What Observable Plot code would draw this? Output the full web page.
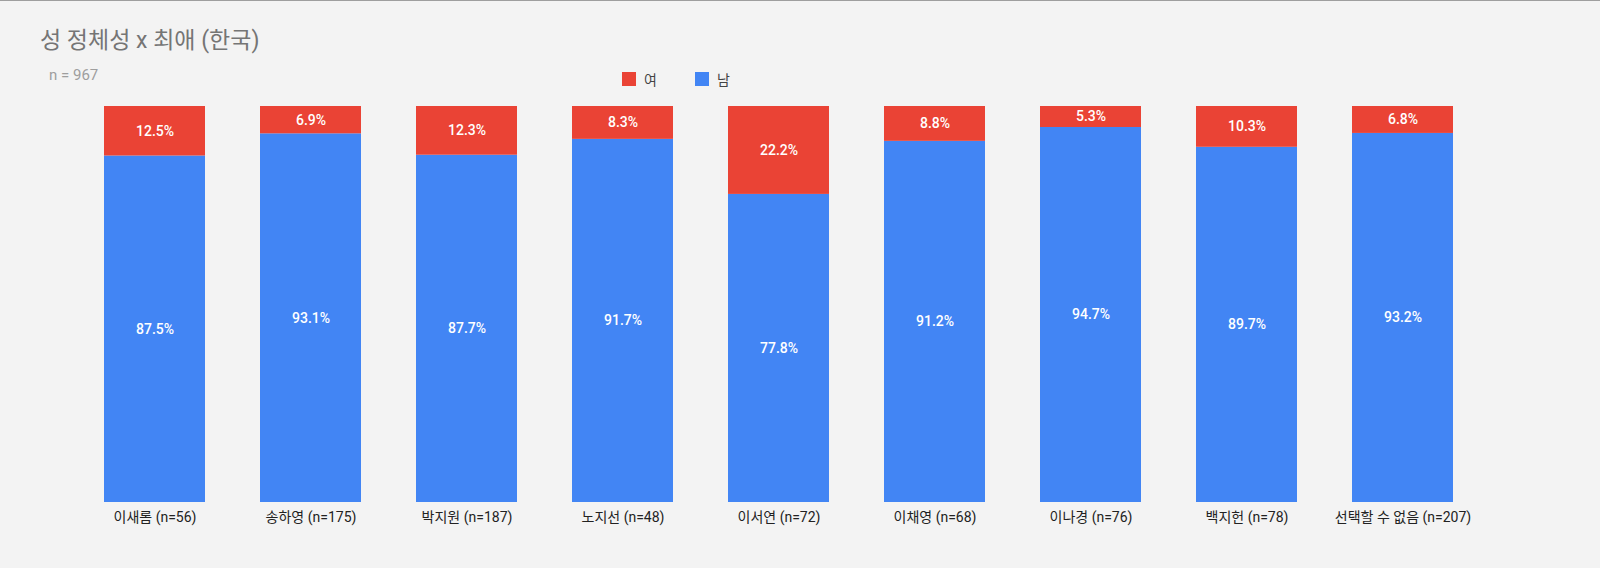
<!DOCTYPE html>
<html><head><meta charset="utf-8">
<script src="https://cdn.jsdelivr.net/npm/d3@7"></script>
<script src="https://cdn.jsdelivr.net/npm/@observablehq/plot@0.6"></script>
<style>
body{margin:0;background:#f3f3f3;font-family:Roboto,"Noto Sans CJK KR",sans-serif;}
#wrap{width:1600px;height:568px;border-top:1px solid #9e9e9e;box-sizing:border-box;position:relative;}
#head{height:95px;position:relative;}
#title{position:absolute;left:40px;top:20px;font-size:23px;color:#757575;}
#sub{position:absolute;left:49px;top:65px;font-size:15px;color:#9e9e9e;}
#legend{position:absolute;left:622px;top:68px;font-size:14px;color:#444;display:flex;gap:8px;align-items:center;}
.sw{width:14px;height:14px;display:inline-block;}
</style></head><body>
<div id="wrap">
<div id="head">
<div id="title">성 정체성 x 최애 (한국)</div>
<div id="sub">n = 967</div>
<div id="legend"><span class="sw" style="background:#ea4335"></span><span>여</span><span style="width:22px"></span><span class="sw" style="background:#4285f4"></span><span>남</span></div>
</div>
<div id="chart"></div>
</div>
<script>
const categories = ["이새롬 (n=56)","송하영 (n=175)","박지원 (n=187)","노지선 (n=48)","이서연 (n=72)","이채영 (n=68)","이나경 (n=76)","백지헌 (n=78)","선택할 수 없음 (n=207)"];
const male = [87.5,93.1,87.7,91.7,77.8,91.2,94.7,89.7,93.2];
const female = [12.5,6.9,12.3,8.3,22.2,8.8,5.3,10.3,6.8];
const series = ["남","여"];
const colors = ["#4285f4","#ea4335"];
const data = [];
categories.forEach((c,i)=>{
  data.push({cat:c, g:"남", v:male[i]});
  data.push({cat:c, g:"여", v:female[i]});
});
const chart = Plot.plot({
  width:1600, height:472,
  marginTop:10, marginBottom:66, marginLeft:47, marginRight:90,
  style:{background:"transparent", fontFamily:"Roboto,'Noto Sans CJK KR',sans-serif"},
  x:{domain:categories, padding:0.35, label:null, axis:null},
  y:{domain:[0,100], axis:null},
  color:{domain:series, range:colors},
  marks:[
    Plot.barY(data, Plot.stackY({x:"cat", y:"v", z:"g", fill:"g"})),
    Plot.text(data, Plot.stackY({x:"cat", y:"v", z:"g", text:d=>d.v.toFixed(1)+"%", fill:"white", fontSize:14, fontWeight:500})),
    Plot.axisX({tickSize:0, tickPadding:10, fontSize:14, color:"#222", label:null})
  ]
});
document.getElementById("chart").appendChild(chart);
</script>
</body></html>
